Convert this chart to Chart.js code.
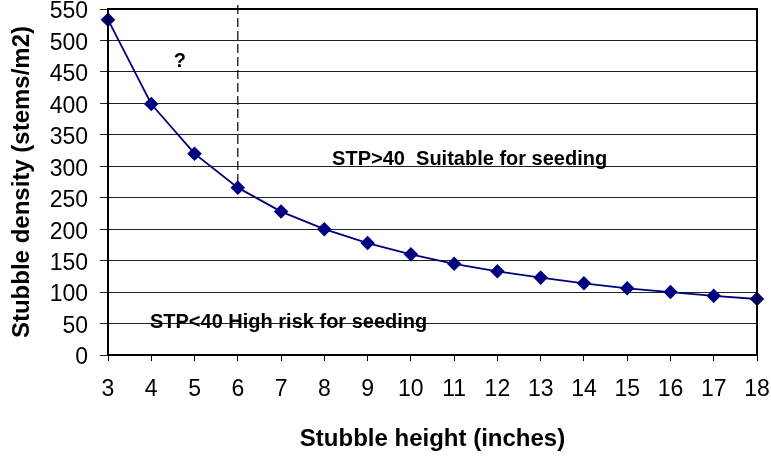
<!DOCTYPE html>
<html>
<head>
<meta charset="utf-8">
<script src="https://cdn.jsdelivr.net/npm/chart.js@4"></script>
<style>
  html, body { margin: 0; padding: 0; background: #fff; }
  #wrap { width: 771px; height: 458px; }
</style>
</head>
<body>
<div id="wrap"><canvas id="c" width="771" height="458"></canvas></div>
<script>
// ---------- data ----------
const heights = ['3','4','5','6','7','8','9','10','11','12','13','14','15','16','17','18'];
const density = [533, 399, 320, 266, 228, 200, 178, 160, 145, 133, 123, 114, 106, 100, 94, 89];
const yTicks = [0, 50, 100, 150, 200, 250, 300, 350, 400, 450, 500, 550];

// threshold line at 6 inches, from top of axis down to the curve
const cutoffX = '6';
const cutoffTop = 550;
const cutoffBottom = 266;

// text notes (x = fractional category index, y = data value)
const notes = [
  { text: '?', x: 1.66, y: 466, size: 20, align: 'center' },
  { text: 'STP>40  Suitable for seeding', x: 5.18, y: 310, size: 20, align: 'left' },
  { text: 'STP<40 High risk for seeding', x: 0.97, y: 52, size: 20, align: 'left' }
];

const FONT = 'Arial, "Liberation Sans", sans-serif';

// ---- frame + dashed cutoff + notes ----
const extras = {
  id: 'extras',
  afterDatasetsDraw(chart) {
    const { ctx, chartArea: a, scales: { x, y } } = chart;
    ctx.save();
    // dashed cutoff
    const cx = x.getPixelForValue(heights.indexOf(cutoffX));
    ctx.strokeStyle = '#000';
    ctx.lineWidth = 1.2;
    ctx.setLineDash([9, 4]);
    ctx.beginPath();
    ctx.moveTo(cx, y.getPixelForValue(cutoffTop) - 4);
    ctx.lineTo(cx, y.getPixelForValue(cutoffBottom) - 6);
    ctx.stroke();
    ctx.setLineDash([]);
    // notes
    ctx.fillStyle = '#000';
    ctx.textBaseline = 'middle';
    notes.forEach(n => {
      ctx.font = `bold ${n.size}px ${FONT}`;
      ctx.textAlign = n.align;
      ctx.fillText(n.text, x.getPixelForValue(n.x), y.getPixelForValue(n.y));
    });
    // plot frame
    ctx.lineWidth = 2;
    ctx.strokeRect(a.left, a.top, a.right - a.left, a.bottom - a.top);
    ctx.restore();
  }
};

new Chart(document.getElementById('c'), {
  type: 'line',
  data: {
    labels: heights,
    datasets: [{
      data: density,
      borderColor: '#000080',
      backgroundColor: '#000080',
      borderWidth: 1.8,
      pointStyle: 'rectRot',
      pointRadius: 6,
      pointHoverRadius: 6,
      tension: 0
    }]
  },
  options: {
    responsive: false,
    animation: false,
    events: [],
    layout: { padding: { top: 9, right: 14, left: 0, bottom: 0 } },
    plugins: { legend: { display: false }, tooltip: { enabled: false } },
    scales: {
      x: {
        offset: false,
        grid: { drawOnChartArea: false, color: '#000', tickLength: 6 },
        border: { color: '#000', width: 2 },
        ticks: { color: '#000', font: { family: FONT, size: 23 }, padding: 15, maxRotation: 0, autoSkip: false },
        title: { display: true, text: 'Stubble height (inches)', color: '#000',
                 font: { family: FONT, size: 24, weight: 'bold' }, padding: { top: 0, bottom: 4 } },
        afterFit: s => { s.height = 103; s.paddingLeft = 0; s.paddingRight = 0; }
      },
      y: {
        min: 0, max: 550,
        afterBuildTicks: s => { s.ticks = yTicks.map(v => ({ value: v })); },
        grid: { color: '#222', lineWidth: 1, tickLength: 8 },
        border: { color: '#000', width: 2 },
        ticks: { color: '#000', font: { family: FONT, size: 23 }, padding: 12, labelOffset: 3 },
        title: { display: true, text: 'Stubble density (stems/m2)', color: '#000',
                 font: { family: FONT, size: 24, weight: 'bold' }, padding: { top: 8, bottom: 0 } },
        afterFit: s => { s.width = 108; s.paddingTop = 9; s.paddingBottom = 0; }
      }
    }
  },
  plugins: [extras]
});
</script>
</body>
</html>
